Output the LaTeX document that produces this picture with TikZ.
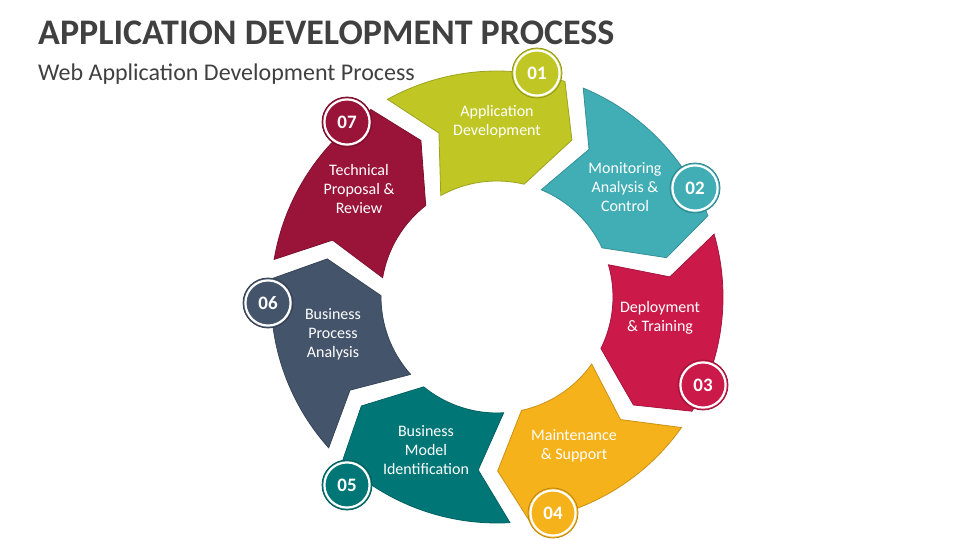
\documentclass[tikz,border=0pt]{standalone}
\usepackage{fontspec}
\setmainfont{Carlito}
\definecolor{c1}{HTML}{C0C724}
\definecolor{c2}{HTML}{41AEB6}
\definecolor{c3}{HTML}{CB1A4A}
\definecolor{c4}{HTML}{F6B21A}
\definecolor{c5}{HTML}{017677}
\definecolor{c6}{HTML}{44546A}
\definecolor{c7}{HTML}{9A1439}
\definecolor{titlegray}{HTML}{404040}
\begin{document}
\begin{tikzpicture}[x=1pt,y=1pt,
  seg/.style={line width=0.8pt, line join=miter},
  lbl/.style={text=white, align=center, font=\fontsize{16}{19}\selectfont, inner sep=0pt},
  badge/.style={circle, minimum size=50pt, inner sep=0pt, line width=0.8pt, text=white, font=\bfseries\fontsize{19}{19}\selectfont},
  ring/.style={white, line width=2.2pt}]
\useasboundingbox (0,0) rectangle (960,-540);
\node[anchor=base west, text=titlegray, font=\bfseries\fontsize{36}{40}\selectfont, inner sep=0pt] (title) at (38,-45) {APPLICATION DEVELOPMENT PROCESS};
\node[anchor=base west, text=titlegray, font=\fontsize{24}{28}\selectfont, inner sep=0pt] (subtitle) at (38,-81) {Web Application Development Process};
\begin{scope}[shift={(497,-297)}]
\foreach \k/\c in {1/c1,2/c2,3/c3,4/c4,5/c5,6/c6,7/c7} {
  \pgfmathsetmacro\ta{119-51.4286*(\k-1)}
  \pgfmathsetmacro\tb{\ta-9.5}
  \pgfmathsetmacro\td{\ta-42.5}
  \pgfmathsetmacro\te{\ta-54.5}
  \pgfmathsetmacro\tf{\ta-46.5}
  \filldraw[fill=\c, draw=\c!82!black, seg] (\ta:226) -- (\tb:174) -- (\ta:116)
    arc[start angle=\ta, end angle=\td, radius=116] -- (\te:174) -- (\tf:226)
    arc[start angle=\tf, end angle=\ta, radius=226] -- cycle;
}
\end{scope}
% badges
\node[badge, fill=c1, draw=c1!75!black] (b1) at (537,-73) {01};
\node[badge, fill=c2, draw=c2!75!black] (b2) at (695,-188) {02};
\node[badge, fill=c3, draw=c3!75!black] (b3) at (703,-385) {03};
\node[badge, fill=c4, draw=c4!75!black] (b4) at (553,-513) {04};
\node[badge, fill=c5, draw=c5!75!black] (b5) at (347,-485) {05};
\node[badge, fill=c6, draw=c6!75!black] (b6) at (268,-303) {06};
\node[badge, fill=c7, draw=c7!75!black] (b7) at (347,-122) {07};
\foreach \b in {b1,b2,b3,b4,b5,b6,b7} { \draw[ring] (\b.center) circle (22.6); }
% labels
\node[lbl] (l1) at (497,-122) {Application\\Development};
\node[lbl] (l2) at (625,-187) {Monitoring\\Analysis \&\\Control};
\node[lbl] (l3) at (660,-318) {Deployment\\\& Training};
\node[lbl] (l4) at (574,-446) {Maintenance\\\& Support};
\node[lbl] (l5) at (426,-450) {Business\\Model\\Identification};
\node[lbl] (l6) at (333,-334) {Business\\Process\\Analysis};
\node[lbl] (l7) at (359,-189) {Technical\\Proposal \&\\Review};
\end{tikzpicture}
\end{document}
